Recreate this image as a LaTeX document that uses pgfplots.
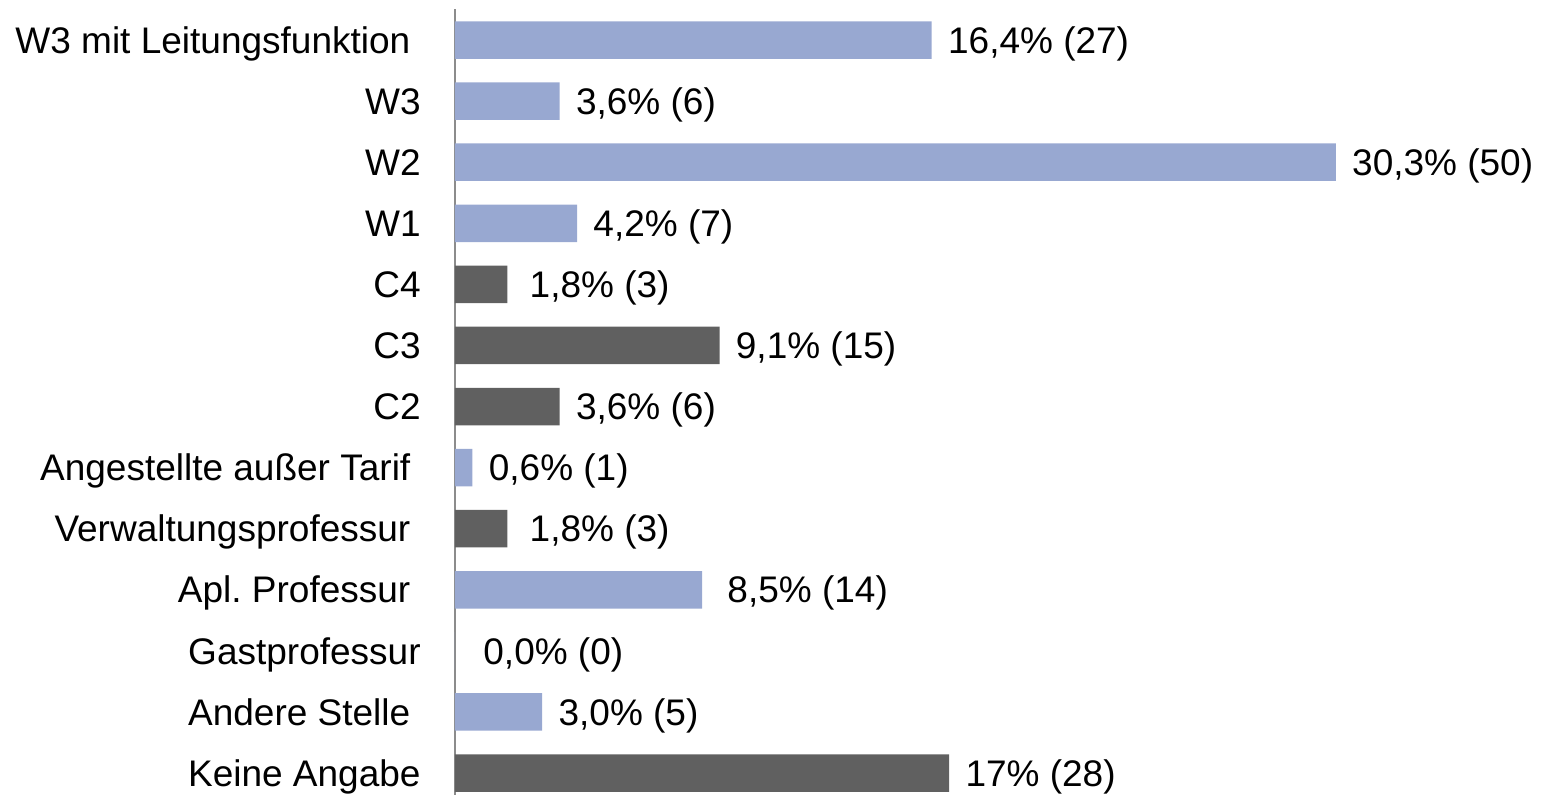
\documentclass[border=0pt]{standalone}
\usepackage{fontspec}
\setmainfont{Liberation Sans}
\usepackage{pgfplots}
\pgfplotsset{compat=1.18}
\definecolor{barblue}{HTML}{98A8D1}
\definecolor{bargray}{HTML}{606060}
\definecolor{axisgray}{HTML}{8C8C8C}
\newcommand{\tsp}{\kern0.278em\relax}

\begin{document}
\begin{tikzpicture}
\begin{axis}[
  scale only axis,
  width=543bp, height=392.75bp,
  xmin=0, xmax=37.36,
  ymin=-0.5, ymax=12.36,
  y dir=reverse,
  xbar, bar width=18.75bp, bar shift=0pt,
  axis x line=none,
  axis y line*=left,
  axis line style={-, draw=axisgray, line width=1bp},
  ytick={0,...,12},
  yticklabels={W3 mit Leitungsfunktion\tsp, W3, W2, W1, C4, C3, C2,
    Angestellte außer Tarif\tsp, Verwaltungsprofessur\tsp, Apl.\ Professur\tsp,
    Gastprofessur, Andere Stelle\tsp, Keine Angabe},
  major tick length=0pt,
  yticklabel style={font=\fontsize{18.5bp}{22bp}\selectfont, inner sep=0pt,
    anchor=base east, xshift=-17bp, yshift=-6.6bp},
  point meta=explicit symbolic,
  nodes near coords,
  nodes near coords style={font=\fontsize{18.5bp}{22bp}\selectfont, inner sep=0pt,
    anchor=base west, xshift=8bp, yshift=-6.6bp, text=black},
  clip=false,
]
  \addplot[fill=barblue, draw=none] coordinates {
    (16.4,0) [16,4\% (27)]
    (3.6,1) [3,6\% (6)]
    (30.3,2) [30,3\% (50)]
    (4.2,3) [4,2\% (7)]
    (0.6,7) [0,6\% (1)]
    (8.5,9) [\hspace{4.5bp}8,5\% (14)]
    (0,10) [\hspace{6bp}0,0\% (0)]
    (3.0,11) [3,0\% (5)]
  };
  \addplot[fill=bargray, draw=none] coordinates {
    (1.8,4) [\hspace{3bp}1,8\% (3)]
    (9.1,5) [9,1\% (15)]
    (3.6,6) [3,6\% (6)]
    (1.8,8) [\hspace{3bp}1,8\% (3)]
    (17,12) [17\% (28)]
  };
\end{axis}
\pgfresetboundingbox
\path (-227.5bp,0) rectangle (543bp,397.5bp);
\end{tikzpicture}
\end{document}
